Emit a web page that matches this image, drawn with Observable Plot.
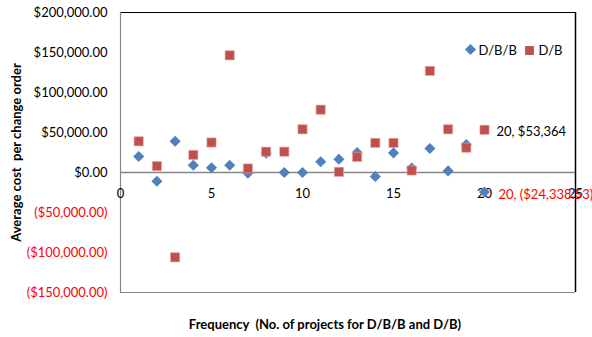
<!DOCTYPE html>
<html>
<head>
<meta charset="utf-8">
<script src="https://cdn.jsdelivr.net/npm/d3@7"></script>
<script src="https://cdn.jsdelivr.net/npm/@observablehq/plot@0.6"></script>
<style>
  html, body { margin: 0; padding: 0; background: #fff; }
  #chart { width: 592px; height: 337px; }
</style>
</head>
<body>
<div id="chart"></div>
<script>
// ---- data ----
const projects = [1,2,3,4,5,6,7,8,9,10,11,12,13,14,15,16,17,18,19,20];
const dbbCost = [20000,-11000,39000,9000,6000,9000,-1000,24000,0,0,13500,16500,25000,-5000,24500,5500,30000,2000,35000,-24338.53];
const dbCost  = [39000,8000,-106000,22000,37500,146500,5000,26000,26000,54000,78500,800,19500,37000,37000,2500,127000,54000,31000,53364];
const seriesNames = ["D/B/B", "D/B"];
const xTicks = [0,5,10,15,20,25];
const yTicks = [-150000,-100000,-50000,0,50000,100000,150000,200000];
const xTitle = "Frequency  (No. of projects for D/B/B and D/B)";
const yTitle = "Average cost  per change order";

const blue = "#4F81BD", red = "#C0504D";
const font = "Lato, 'Liberation Sans', sans-serif";
const fs = 13;

const dbbData = projects.map((p, i) => ({x: p, y: dbbCost[i]}));
const dbData  = projects.map((p, i) => ({x: p, y: dbCost[i]}));

const money = d3.format("$,.2f");
const fmtY = v => v < 0 ? `(${money(-v)})` : money(v);
const lastDb = dbData[dbData.length - 1];
const lastDbb = dbbData[dbbData.length - 1];

const chart = Plot.plot({
  width: 592,
  height: 337,
  marginLeft: 120,
  marginRight: 17,
  marginTop: 12,
  marginBottom: 45,
  style: {fontFamily: font, fontSize: fs + "px", background: "white", color: "black"},
  x: {domain: [xTicks[0], xTicks[xTicks.length - 1]], axis: null},
  y: {domain: [yTicks[0], yTicks[yTicks.length - 1]], axis: null},
  marks: [
    // plot area border
    Plot.ruleY([yTicks[yTicks.length - 1]], {stroke: "#000", strokeWidth: 1.2}),
    Plot.ruleX([xTicks[xTicks.length - 1]], {stroke: "#000", strokeWidth: 1.5}),
    Plot.ruleY([yTicks[0]], {stroke: "#868686", strokeWidth: 1.2}),
    Plot.ruleX([xTicks[0]], {stroke: "#868686", strokeWidth: 1.2}),
    // horizontal axis at zero
    Plot.ruleY([0], {stroke: "#868686", strokeWidth: 1.6}),
    // y tick labels
    Plot.text(yTicks, {
      y: d => d, frameAnchor: "left", dx: -13, textAnchor: "end", lineAnchor: "middle",
      text: fmtY, fill: d => d < 0 ? "#FF0000" : "#000",
      fontSize: fs
    }),
    // x tick labels at the zero line
    Plot.text(xTicks, {x: d => d, y: () => 0, dy: 21, text: d => String(d), fill: "#000", fontSize: fs}),
    // series
    Plot.dot(dbbData, {x: "x", y: "y", symbol: "diamond2", r: 5, fill: blue, stroke: "none"}),
    Plot.dot(dbData, {x: "x", y: "y", symbol: "square", r: 5.2, fill: red, stroke: "#e8a8a6", strokeWidth: 0.6}),
    // data labels
    Plot.text([lastDb], {x: "x", y: "y", dx: 12, dy: 2, textAnchor: "start",
      text: d => `${d.x}, ${d3.format("$,.0f")(d.y)}`, fill: "#000", fontSize: fs}),
    Plot.text([lastDbb], {x: "x", y: "y", dx: 14, dy: 3, textAnchor: "start",
      text: d => `${d.x}, (${d3.format("$,.2f")(-d.y)})`, fill: "#FF0000", fontSize: fs}),
    // legend
    Plot.dot([seriesNames[0]], {frameAnchor: "top-right", dx: -105, dy: 37, symbol: "diamond2", r: 5, fill: blue}),
    Plot.text([seriesNames[0]], {frameAnchor: "top-right", dx: -97, dy: 38, textAnchor: "start", lineAnchor: "middle", text: d => d, fill: "#000", fontSize: fs}),
    Plot.dot([seriesNames[1]], {frameAnchor: "top-right", dx: -46, dy: 38, symbol: "square", r: 5, fill: red}),
    Plot.text([seriesNames[1]], {frameAnchor: "top-right", dx: -37, dy: 38, textAnchor: "start", lineAnchor: "middle", text: d => d, fill: "#000", fontSize: fs}),
    // axis titles
    Plot.text([yTitle], {frameAnchor: "left", dx: -104, rotate: -90, textAnchor: "middle", lineAnchor: "middle", text: d => d, fontWeight: "bold", fontSize: fs, fill: "#000"}),
    Plot.text([xTitle], {frameAnchor: "bottom", dy: 32, dx: -23, textAnchor: "middle", lineAnchor: "middle", text: d => d, fontWeight: "bold", fontSize: fs, fill: "#000"})
  ]
});
document.getElementById("chart").appendChild(chart);
</script>
</body>
</html>
